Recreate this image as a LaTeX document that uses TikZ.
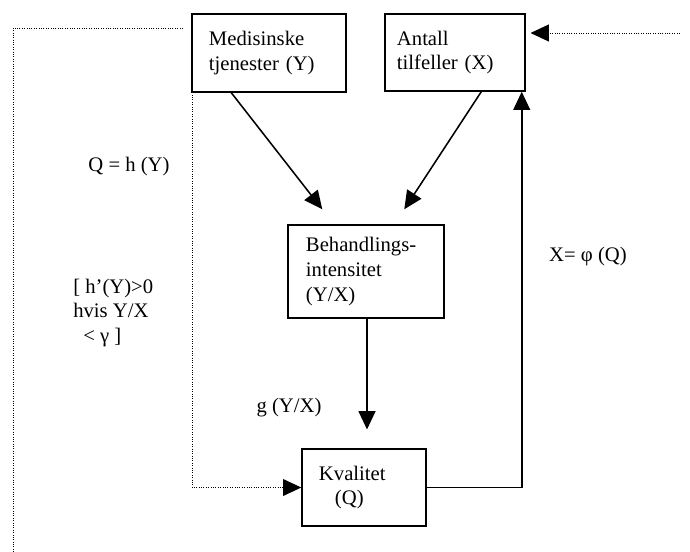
\documentclass[tikz,border=0pt]{standalone}
\usepackage{fontspec}
\setmainfont{Liberation Serif}
\usepackage{tikz}
\usetikzlibrary{positioning,arrows.meta,calc}

\begin{document}
\begin{tikzpicture}[x=0.025cm, y=-0.025cm, >={Triangle[length=13pt, width=12pt]},
    every node/.style={font=\fontsize{14.7}{17.5}\selectfont, inner sep=0pt},
    box/.style={draw, line width=1pt, align=left},
    flow/.style={line width=1.1pt},
    dotline/.style={densely dotted, line width=0.7pt}]
  \useasboundingbox (0,0) rectangle (690,552);

  \node[box, minimum width=3.85cm, minimum height=1.95cm, text width=3cm] (med)
        at (269,53) {Medisinske\\tjenester (Y)};
  \node[box, minimum width=3.5cm, minimum height=1.925cm, text width=2.9cm] (ant)
        at (455,52.5) {Antall\\tilfeller (X)};
  \node[box, minimum width=3.9cm, minimum height=2.325cm, text width=3cm] (beh)
        at (366,271.5) {Behandlings-\\intensitet\\(Y/X)};
  \node[box, minimum width=3.1cm, minimum height=1.925cm, text width=2.25cm] (kval)
        at (364,487.5) {Kvalitet\\\hspace*{0.4cm}(Q)};

  \node (qh) at (129,167) {Q = h (Y)};
  \node[anchor=west, align=left] (cond) at (73,313) {[ h'(Y)>0\\hvis Y/X\\\hspace*{0.25cm}< γ ]};
  \node (g) at (289,408) {g (Y/X)};
  \node (xphi) at (588,257) {X= φ (Q)};

  \coordinate (frame) at (183,28);
  \coordinate (framebot) at (13,552);
  \coordinate (inn) at (680,33);

  \draw[flow,->] ($(med.south west)+(40,0)$) -- ($(beh.north west)+(35,-15)$);
  \draw[flow,->] ($(ant.south west)+(97,0)$) -- ($(beh.north west)+(117,-15)$);
  \draw[flow,->, shorten >=0.47cm] ($(beh.south)+(1,0)$) -- ($(beh.south |- kval.north)+(1,0)$);
  \draw[flow,->] (kval.east) -| ($(ant.south east)+(-4,0)$);

  \draw[dotline,->] ($(med.south west)+(1,2)$) |- (kval.west);
  \draw[dotline] (frame) -| (framebot);
  \draw[dotline,->, shorten >=0.12cm] (inn) -- (inn -| ant.east);
\end{tikzpicture}
\end{document}
